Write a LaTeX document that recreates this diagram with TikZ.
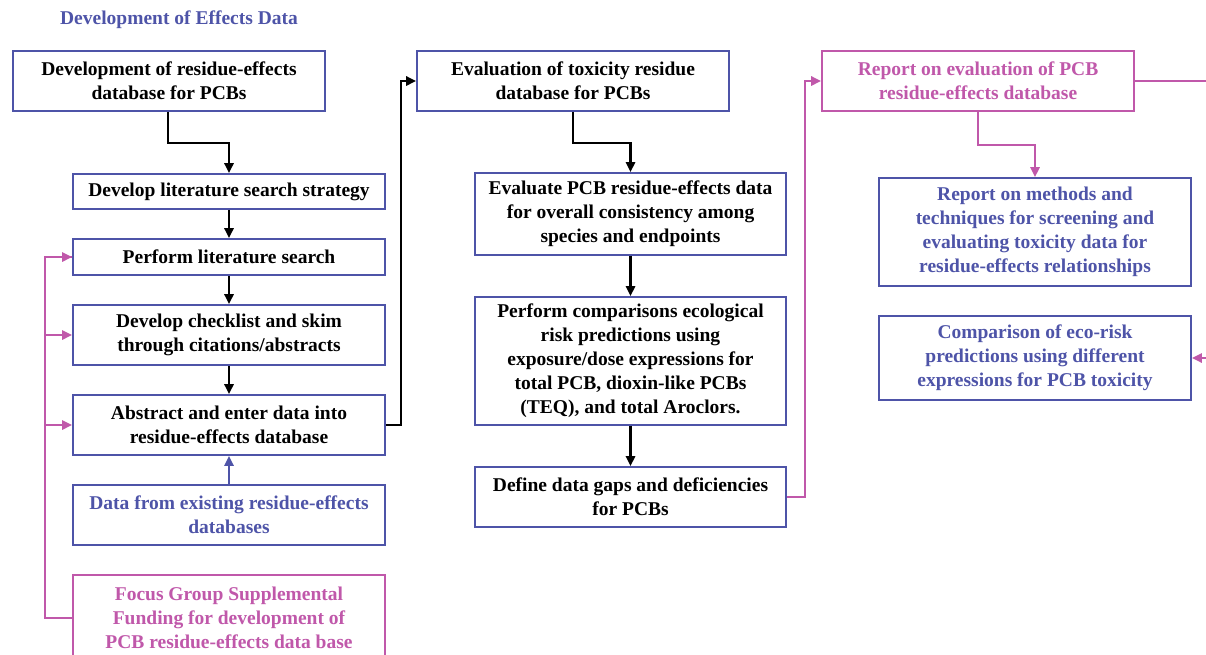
\documentclass[tikz,border=0pt]{standalone}
\usepackage{fontspec}
\setmainfont{Liberation Serif}
\usetikzlibrary{arrows.meta}
\definecolor{bl}{RGB}{78,84,168}
\definecolor{pk}{RGB}{192,88,170}
\tikzset{
  box/.style={draw=bl, line width=1.6pt, fill=white, align=center, inner sep=0pt,
    minimum width=312pt, font=\fontsize{19.5}{24}\selectfont\bfseries},
  conn/.style={line width=2.8pt, -{Triangle[length=10pt,width=9pt]}},
  plain/.style={line width=2.8pt},
}
\begin{document}
\begin{tikzpicture}[x=1pt,y=-1pt]
\useasboundingbox (0,0) rectangle (1206,654);
\clip (0,0) rectangle (1206,654);
\node[font=\fontsize{19.5}{22}\selectfont\bfseries, text=bl] (title) at (179,20) {Development of Effects Data};
% left column
\node[box, minimum height=60pt] (A) at (169,81) {Development of residue-effects\\database for PCBs};
\node[box, minimum height=35pt] (B) at (229,191.5) {Develop literature search strategy};
\node[box, minimum height=36pt] (C) at (229,257) {Perform literature search};
\node[box, minimum height=60pt] (D) at (229,335) {Develop checklist and skim\\through citations/abstracts};
\node[box, minimum height=60pt] (E) at (229,425) {Abstract and enter data into\\residue-effects database};
\node[box, minimum height=60pt, text=bl] (F) at (229,515) {Data from existing residue-effects\\databases};
\node[box, draw=pk, minimum height=86pt, text=pk] (G) at (229,618) {Focus Group Supplemental\\Funding for development of\\PCB residue-effects data base};
% middle column
\node[box, minimum height=60pt] (H) at (573,81) {Evaluation of toxicity residue\\database for PCBs};
\node[box, minimum width=311pt, minimum height=82pt] (I) at (630.5,214) {Evaluate PCB residue-effects data\\for overall consistency among\\species and endpoints};
\node[box, minimum width=311pt, minimum height=128pt] (J) at (630.5,361) {Perform comparisons ecological\\risk predictions using\\exposure/dose expressions for\\total PCB, dioxin-like PCBs\\(TEQ), and total Aroclors.};
\node[box, minimum width=311pt, minimum height=60pt] (K) at (630.5,497) {Define data gaps and deficiencies\\for PCBs};
% right column
\node[box, draw=pk, minimum height=60pt, text=pk] (L) at (978,81) {Report on evaluation of PCB\\residue-effects database};
\node[box, minimum height=108pt, text=bl] (M) at (1035,232) {Report on methods and\\techniques for screening and\\evaluating toxicity data for\\residue-effects relationships};
\node[box, minimum height=84pt, text=bl] (N) at (1035,358) {Comparison of eco-risk\\predictions using different\\expressions for PCB toxicity};
% helper coordinates
\coordinate (pl) at (45,618);
\coordinate (bendA) at (168,143);
\coordinate (bendE) at (401,425);
\coordinate (bendH) at (573,143);
\coordinate (bendK) at (805,497);
\coordinate (bendL) at (978,145);
\coordinate (edgeL) at (1210,81);
\coordinate (edgeN) at (1210,358);
% black connectors
\draw[conn] (A.south -| bendA) -- (bendA) -| (B.north);
\draw[conn] (B) -- (C);
\draw[conn] (C) -- (D);
\draw[conn] (D) -- (E);
\draw[conn, draw=bl, fill=bl] (F) -- (E);
\draw[conn] (E.east) -- (bendE) |- (H.west);
\draw[conn] (H.south) -- (bendH) -| (I.north);
\draw[conn] (I) -- (J);
\draw[conn] (J) -- (K);
% pink connectors
\draw[plain, draw=pk] (G.west) -- (pl) |- (C.west);
\draw[conn, draw=pk] (pl |- C.west) -- (C.west);
\draw[conn, draw=pk] (pl |- D.west) -- (D.west);
\draw[conn, draw=pk] (pl |- E.west) -- (E.west);
\draw[conn, draw=pk] (K.east) -- (bendK) |- (L.west);
\draw[conn, draw=pk] (L.south) -- (bendL) -| (M.north);
\draw[plain, draw=pk] (L.east) -- (edgeL);
\draw[conn, draw=pk] (edgeN) -- (N.east);
\end{tikzpicture}
\end{document}
